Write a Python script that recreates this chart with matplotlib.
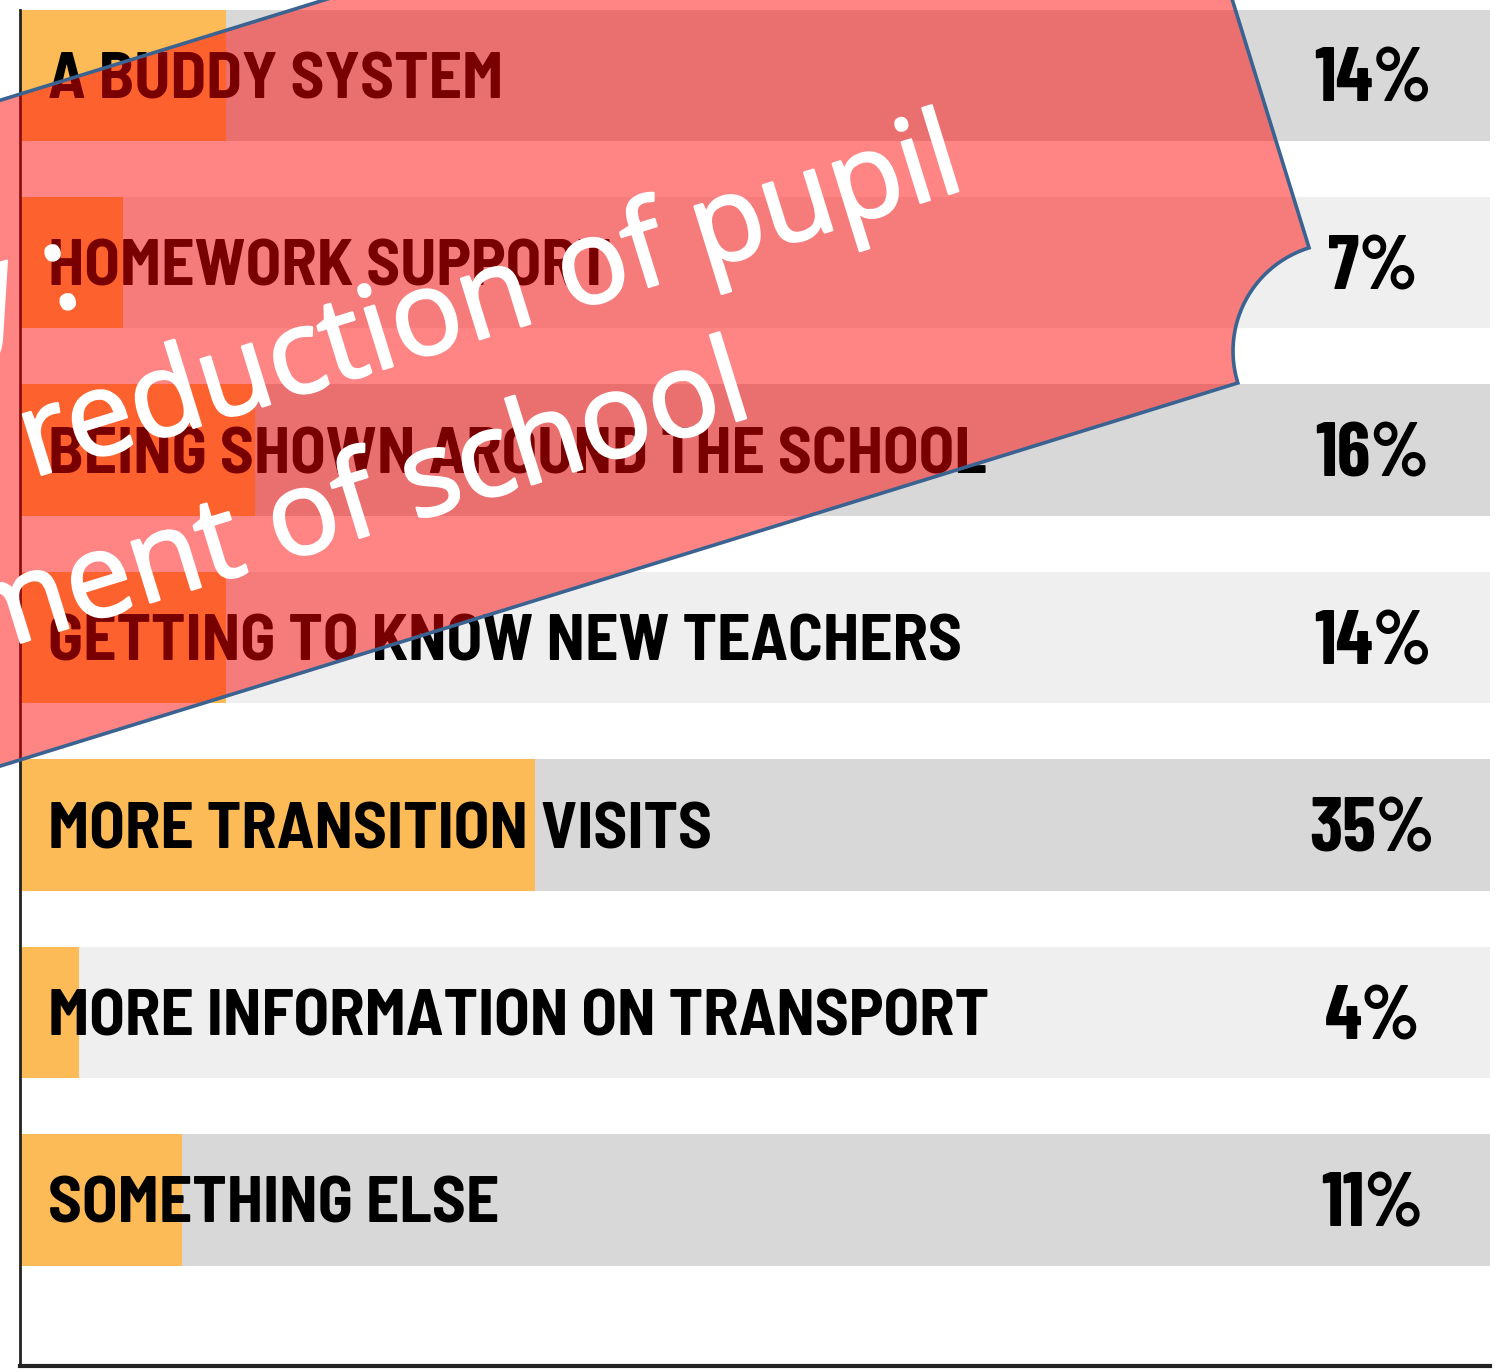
import numpy as np
import matplotlib
matplotlib.use("Agg")
import matplotlib.pyplot as plt
import matplotlib.patheffects as pe
from matplotlib.patches import Polygon

# survey answers, top to bottom
labels = ["A BUDDY SYSTEM", "HOMEWORK SUPPORT", "BEING SHOWN AROUND THE SCHOOL",
          "GETTING TO KNOW NEW TEACHERS", "MORE TRANSITION VISITS",
          "MORE INFORMATION ON TRANSPORT", "SOMETHING ELSE"]
values = [14, 7, 16, 14, 35, 4, 11]
pct_labels = ["14%", "7%", "16%", "14%", "35%", "4%", "11%"]

# overlay callout text
note_lines = ["Strategy :", "reduction of pupil", "movement of school"]

W, H = 1498, 1372
fig = plt.figure(figsize=(W / 100, H / 100), dpi=100)
ax = fig.add_axes([20 / W, 1 - 1366 / H, 1470 / W, 1356 / H])

semi = ["Barlow Semi Condensed", "Barlow Condensed", "DejaVu Sans"]
narrow = ["Barlow Condensed", "DejaVu Sans"]
pos = np.arange(len(labels))
back_cols = ["#d8d8d8" if i % 2 == 0 else "#efefef" for i in pos]

ax.barh(pos, [100] * len(pos), height=0.7, color=back_cols, zorder=1)
ax.barh(pos, values, height=0.7, color="#fdbb58", zorder=2)

for i, (lab, pct) in enumerate(zip(labels, pct_labels)):
    ax.text(1.9, i + 0.123, lab, ha="left", va="baseline", fontsize=47,
            fontweight="bold", family=semi, color="black", zorder=3)
    ax.text(92.0, i + 0.142, pct, ha="center", va="baseline", fontsize=55,
            fontweight="bold", family=narrow, color="black", zorder=3)

ax.set_xlim(0, 100)
ax.set_ylim(6.886, -0.347)
ax.set_xticks([])
ax.set_yticks([])
for s in ["top", "right"]:
    ax.spines[s].set_visible(False)
ax.spines["left"].set_linewidth(2)
ax.spines["left"].set_color("#222222")
ax.spines["bottom"].set_linewidth(3)
ax.spines["bottom"].set_color("#222222")

# rotated "plaque" callout laid over the chart (pixel coords, y down)
th = np.deg2rad(17.2)
cx, cy = 1341, 351
Lw, Hh, r = 2200, 636, 108


def arc(cu, cv, a0, a1, n=30):
    a = np.deg2rad(np.linspace(a0, a1, n))
    return list(zip(cu + r * np.cos(a), cv + r * np.sin(a)))


pts = []
pts += arc(0, -Hh, 180, 90)
pts += arc(0, 0, 270, 180)
pts += arc(-Lw, 0, 0, -90)
pts += arc(-Lw, -Hh, 90, 0)
uv = np.array(pts)
px = cx + uv[:, 0] * np.cos(th) + uv[:, 1] * np.sin(th)
py = cy - uv[:, 0] * np.sin(th) + uv[:, 1] * np.cos(th)
poly = Polygon(np.column_stack([px / W, 1 - py / H]), closed=True,
               transform=fig.transFigure, facecolor=(1, 0, 0, 0.48),
               edgecolor="#3b6391", linewidth=2.6, zorder=10)
fig.add_artist(poly)

ends = [(84, 303), (968, 188), (756, 415)]
for txt, (ex, ey) in zip(note_lines, ends):
    fig.text(ex / W, 1 - ey / H, txt, ha="right", va="baseline",
             rotation=17.2, rotation_mode="anchor", fontsize=85,
             family=["Open Sans", "DejaVu Sans"], color="white", zorder=11,
             path_effects=[pe.withStroke(linewidth=1.8, foreground="white")])

fig.savefig("out.png", dpi=100)
